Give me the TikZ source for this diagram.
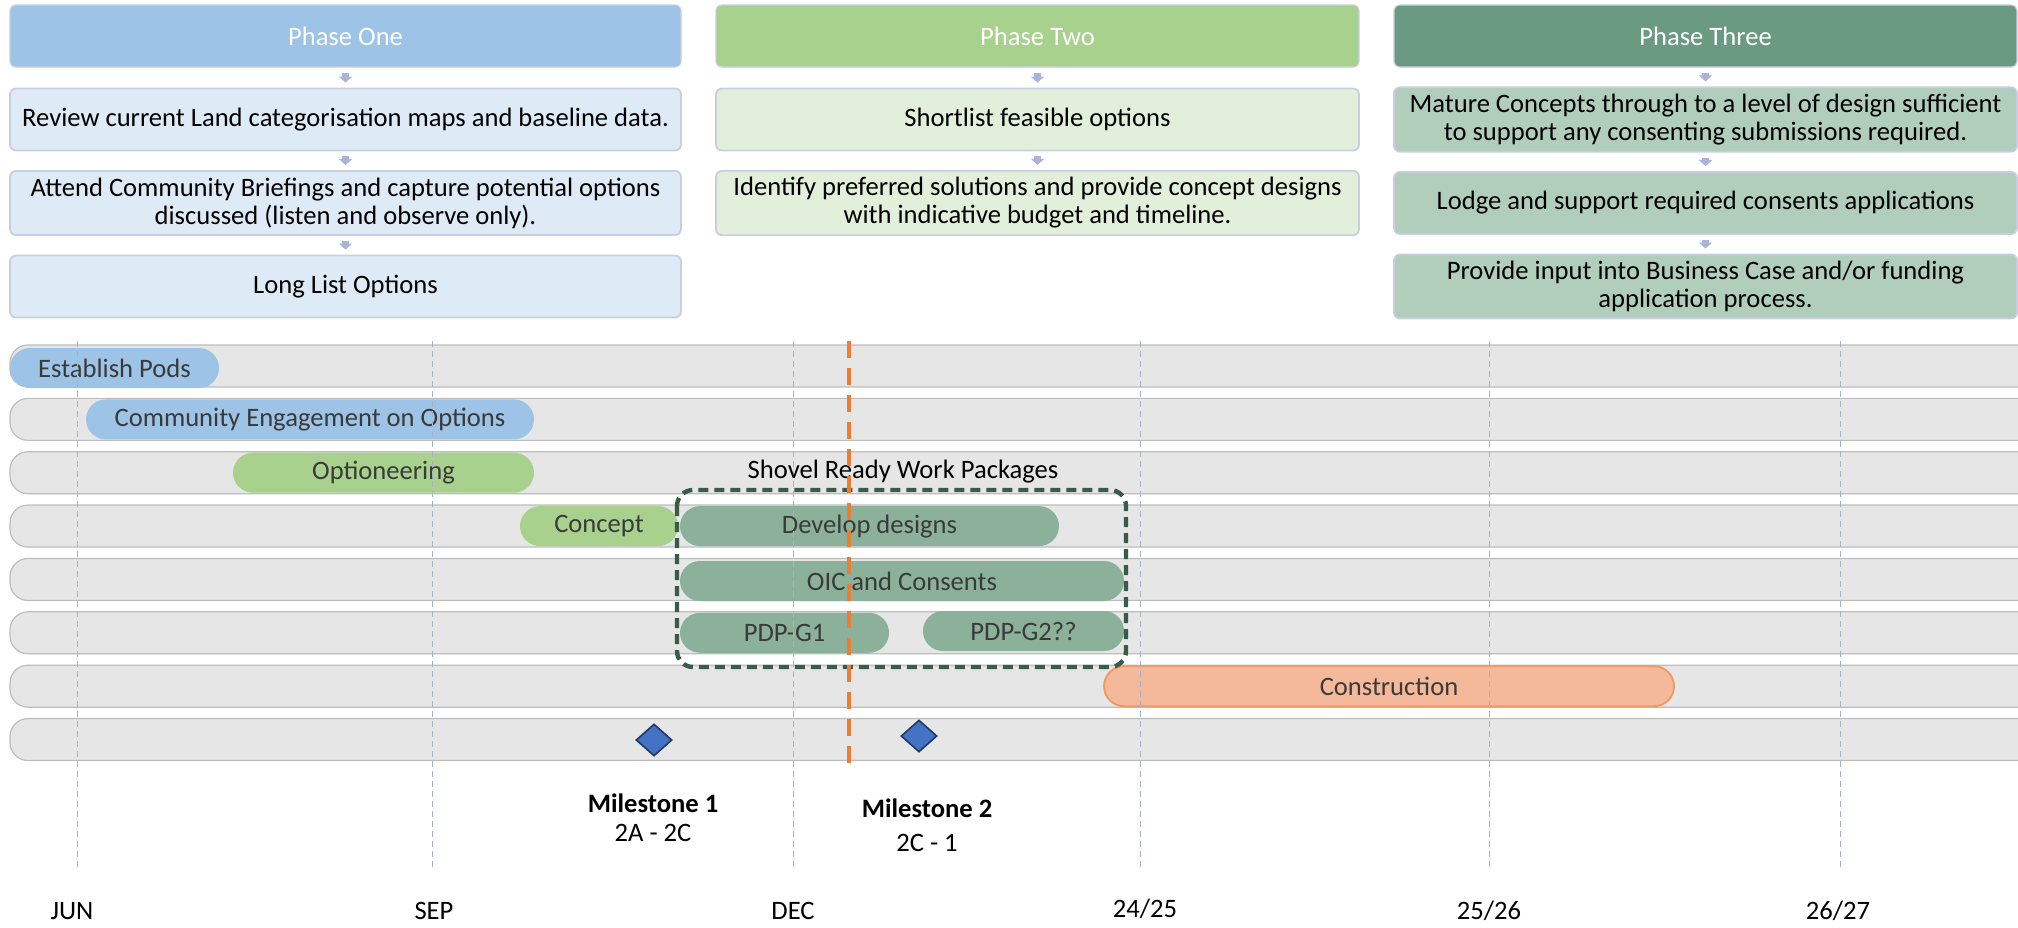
\documentclass[tikz,border=0pt]{standalone}
\usepackage{fontspec}
\setmainfont{Carlito}
\usetikzlibrary{arrows.meta,shapes.geometric}

\definecolor{blueA}{HTML}{9DC3E6}
\definecolor{blueB}{HTML}{DEEBF7}
\definecolor{greenA}{HTML}{A9D18E}
\definecolor{greenB}{HTML}{E2EFDA}
\definecolor{greenC}{HTML}{6A9B82}
\definecolor{greenD}{HTML}{B1CDBC}
\definecolor{greenE}{HTML}{8BB19A}
\definecolor{boxline}{HTML}{C8CEE0}
\definecolor{rowfill}{HTML}{E6E6E6}
\definecolor{rowline}{HTML}{BDBDBD}
\definecolor{gridline}{HTML}{A7B2C9}
\definecolor{shovel}{HTML}{385C47}
\definecolor{today}{HTML}{ED7D31}
\definecolor{msfill}{HTML}{4472C4}
\definecolor{msline}{HTML}{203864}
\definecolor{buildfill}{HTML}{F4B99B}
\definecolor{buildline}{HTML}{F0985F}
\definecolor{bartext}{HTML}{3A3A3A}
\definecolor{arrowc}{HTML}{A9B5D6}

\tikzset{
  head/.style={rectangle, rounded corners=3pt, draw=boxline, line width=0.6pt, text=white, minimum height=31pt},
  task/.style={rectangle, rounded corners=3pt, draw=boxline, line width=0.9pt, minimum height=31pt, align=center},
  down/.style={-{Triangle[length=3pt,width=6.5pt]}, line width=3.5pt, arrowc, shorten <=2.5pt, shorten >=2.5pt},
  bar/.style={rectangle, rounded corners=10pt, minimum height=20pt, inner sep=0pt, text=bartext},
}

% #1 name, #2 style, #3 left, #4 right, #5 y, #6 text
\newcommand{\ganttbar}[6]{%
  \pgfmathsetmacro\bx{(#3+#4)/2}%
  \pgfmathsetmacro\bw{(#4-#3)*0.5}%
  \node[bar, #2, minimum width=\bw pt] (#1) at (\bx,#5) {#6};%
}

\begin{document}
\begin{tikzpicture}[x=0.5pt, y=-0.5pt, font=\fontsize{13.3}{14}\selectfont]
\useasboundingbox (0,0) rectangle (2018,927);

% phases
\node[head, fill=blueA, minimum width=335.5pt] (p1h) at (345.5,36) {Phase One};
\node[task, fill=blueB, minimum width=335.5pt] (p1a) at (345.5,119.5) {Review current Land categorisation maps and baseline data.};
\node[task, fill=blueB, minimum width=335.5pt] (p1b) at (345.5,203) {Attend Community Briefings and capture potential options\\ discussed (listen and observe only).};
\node[task, fill=blueB, minimum width=335.5pt] (p1c) at (345.5,286.5) {Long List Options};
\draw[down] (p1h) -- (p1a);
\draw[down] (p1a) -- (p1b);
\draw[down] (p1b) -- (p1c);

\node[head, fill=greenA, minimum width=321.5pt] (p2h) at (1037.5,36) {Phase Two};
\node[task, fill=greenB, minimum width=321.5pt] (p2a) at (1037.5,119.5) {Shortlist feasible options};
\node[task, fill=greenB, minimum width=321.5pt] (p2b) at (1037.5,203) {Identify preferred solutions and provide concept designs\\ with indicative budget and timeline.};
\draw[down] (p2h) -- (p2a);
\draw[down] (p2a) -- (p2b);

\node[head, fill=greenC, minimum width=311.5pt] (p3h) at (1705.5,36) {Phase Three};
\node[task, fill=greenD, minimum width=311.5pt] (p3a) at (1705.5,119.5) {Mature Concepts through to a level of design sufficient\\ to support any consenting submissions required.};
\node[task, fill=greenD, minimum width=311.5pt] (p3b) at (1705.5,203) {Lodge and support required consents applications};
\node[task, fill=greenD, minimum width=311.5pt] (p3c) at (1705.5,286.5) {Provide input into Business Case and/or funding\\ application process.};
\draw[down] (p3h) -- (p3a);
\draw[down] (p3a) -- (p3b);
\draw[down] (p3b) -- (p3c);

% rows
\foreach \r in {0,...,7}{
  \pgfmathsetmacro\yc{366+53.36*\r}
  \path[fill=rowfill, draw=rowline, line width=0.6pt, rounded corners=9pt]
    (2018,\yc-21) -- (10,\yc-21) -- (10,\yc+21) -- (2018,\yc+21);
}

% bars
\ganttbar{pods}{fill=blueA}{10}{219}{368}{Establish Pods}
\ganttbar{engage}{fill=blueA}{86}{534}{419.4}{Community Engagement on Options}
\ganttbar{options}{fill=greenA}{233}{534}{472.7}{Optioneering}
\ganttbar{concept}{fill=greenA}{520}{678}{526.1}{Concept}
\ganttbar{design}{fill=greenE}{680}{1059}{526.1}{Develop designs}
\ganttbar{oic}{fill=greenE}{680}{1124}{581}{OIC and Consents}
\ganttbar{gone}{fill=greenE}{680}{889}{632.8}{PDP-G1}
\ganttbar{gtwo}{fill=greenE}{923}{1124}{631}{PDP-G2??}
\ganttbar{build}{fill=buildfill, draw=buildline, line width=0.9pt}{1104}{1674}{686.2}{Construction}

% grid
\foreach \x in {77,432,793,1140,1489,1840}
  \draw[gridline, line width=0.5pt, dash pattern=on 3pt off 2pt] (\x,341) -- (\x,870);

\node (jun) at (72,911) {JUN};
\node (sep) at (434,911) {SEP};
\node (dec) at (793,911) {DEC};
\node (y25) at (1145,909) {24/25};
\node (y26) at (1489,911) {25/26};
\node (y27) at (1838,911) {26/27};

% work packages
\node (shovel) at (903,472) {Shovel Ready Work Packages};
\draw[shovel, line width=2.2pt, dash pattern=on 5pt off 3pt, rounded corners=8pt] (677,490) rectangle (1126,667);
\draw[today, line width=2pt, dash pattern=on 8.5pt off 5pt] (849,341) -- (849,766);

% milestones
\node[diamond, fill=msfill, draw=msline, line width=0.8pt, minimum width=18pt, minimum height=16pt, inner sep=0pt] (m1) at (654,740) {};
\node[diamond, fill=msfill, draw=msline, line width=0.8pt, minimum width=18pt, minimum height=16pt, inner sep=0pt] (m2) at (919,736) {};
\node[font=\fontsize{13.3}{14}\selectfont\bfseries] (m1t) at (653,803) {Milestone 1};
\node (m1s) at (653,833) {2A - 2C};
\node[font=\fontsize{13.3}{14}\selectfont\bfseries] (m2t) at (927,808) {Milestone 2};
\node (m2s) at (927,843) {2C - 1};
\end{tikzpicture}
\end{document}
